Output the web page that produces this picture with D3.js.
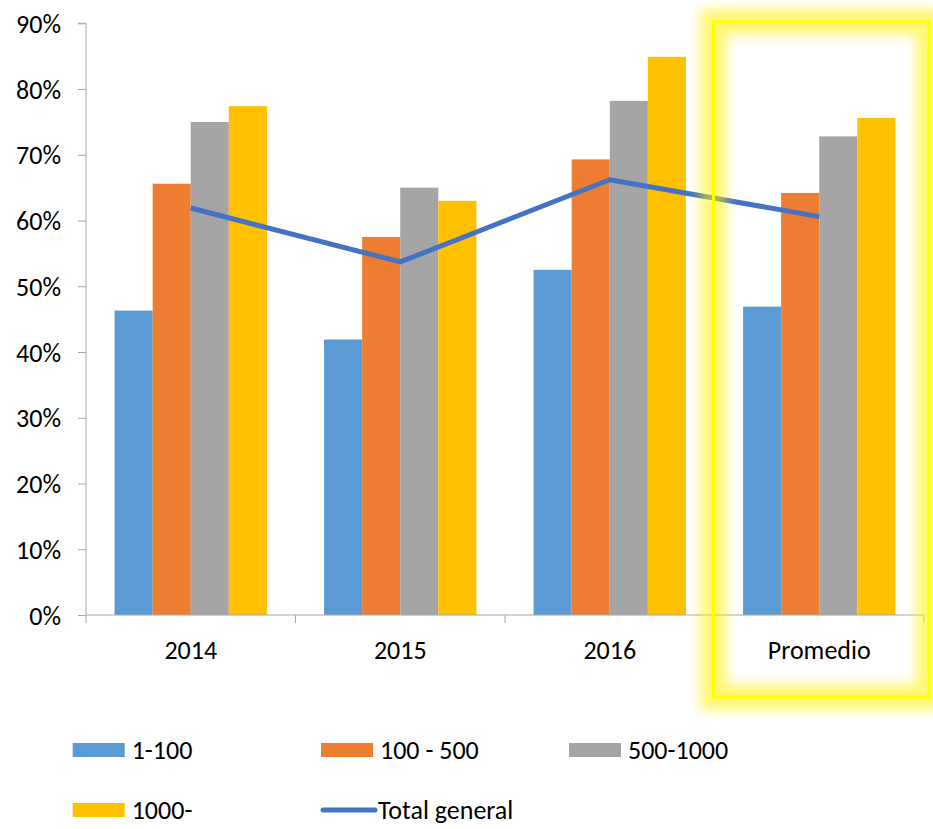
<!DOCTYPE html>
<html>
<head>
<meta charset="utf-8">
<script src="https://cdn.jsdelivr.net/npm/d3@7/dist/d3.min.js"></script>
<style>
  html, body { margin: 0; padding: 0; background: #fff; }
  svg text { font-family: Carlito, Lato, "Liberation Sans", sans-serif; fill: #000; }
</style>
</head>
<body>
<svg id="chart" width="933" height="829"></svg>
<script>
const categories = ["2014", "2015", "2016", "Promedio"];
const seriesNames = ["1-100", "100 - 500", "500-1000", "1000-"];
const s1_100 = [0.463, 0.419, 0.525, 0.469];
const s100_500 = [0.656, 0.575, 0.693, 0.642];
const s500_1000 = [0.750, 0.650, 0.782, 0.728];
const s1000 = [0.774, 0.630, 0.849, 0.756];
const totalGeneral = [0.619, 0.537, 0.662, 0.606];
const lineName = "Total general";
const yTicks = [0, 0.1, 0.2, 0.3, 0.4, 0.5, 0.6, 0.7, 0.8, 0.9];
const colors = ["#5B9BD5", "#ED7D31", "#A5A5A5", "#FFC000"];
const lineColor = "#4472C4";

const seriesValues = [s1_100, s100_500, s500_1000, s1000];

const svg = d3.select("#chart");
const mLeft = 86, mRight = 924, mTop = 23.3, mBottom = 615;
const fs = 26;

const x = d3.scaleBand().domain(categories).range([mLeft, mRight]).paddingInner(0).paddingOuter(0);
const y = d3.scaleLinear().domain([0, 0.9]).range([mBottom, mTop]);
const bw = x.bandwidth() / 5.5;
const xs = d3.scaleBand().domain(d3.range(4)).range([bw * 0.75, bw * 4.75]);

// bars
seriesValues.forEach((vals, si) => {
  svg.append("g").selectAll("rect").data(vals).join("rect")
    .attr("x", (d, i) => x(categories[i]) + xs(si))
    .attr("y", d => y(d))
    .attr("width", xs.bandwidth())
    .attr("height", d => y(0) - y(d))
    .attr("fill", colors[si]);
});

// axes
const axisColor = "#A6A6A6";
const yAxis = svg.append("g").attr("transform", `translate(${mLeft},0)`)
  .call(d3.axisLeft(y).tickValues(yTicks).tickFormat(d3.format(".0%")).tickSize(8).tickPadding(17));
yAxis.select(".domain").attr("stroke", axisColor).attr("d", `M-8,${mTop}H0V${mBottom}`);
yAxis.selectAll(".tick line").attr("stroke", axisColor);
yAxis.selectAll(".tick text").style("font-size", fs + "px").attr("dy", "0.35em");

const xAxis = svg.append("g").attr("transform", `translate(0,${mBottom})`)
  .call(d3.axisBottom(x).tickSize(0).tickPadding(0));
xAxis.select(".domain").attr("stroke", axisColor).attr("d", `M${mLeft},0H${mRight}`);
xAxis.selectAll(".tick text").style("font-size", fs + "px").attr("y", 44).attr("dy", 0);
// boundary ticks
const bounds = categories.map(c => x(c)).concat([mRight]);
svg.append("g").selectAll("line").data(bounds).join("line")
  .attr("x1", d => d).attr("x2", d => d)
  .attr("y1", mBottom).attr("y2", mBottom + 8)
  .attr("stroke", axisColor);

// line
const line = d3.line()
  .x((d, i) => x(categories[i]) + x.bandwidth() / 2)
  .y(d => y(d));
svg.append("path").datum(totalGeneral)
  .attr("d", line)
  .attr("fill", "none")
  .attr("stroke", lineColor)
  .attr("stroke-width", 5)
  .attr("stroke-linejoin", "round");

// highlight box with glow
const defs = svg.append("defs");
defs.append("filter").attr("id", "glow").attr("x", "-20%").attr("y", "-20%").attr("width", "140%").attr("height", "140%")
  .append("feGaussianBlur").attr("stdDeviation", 6);
const bx = 713.5, by = 22, bwid = 929 - 713.5, bh = 697 - 22;
svg.append("rect").attr("x", bx).attr("y", by).attr("width", bwid).attr("height", bh)
  .attr("fill", "none").attr("stroke", "#FFF200").attr("stroke-width", 26)
  .attr("opacity", 0.55).attr("filter", "url(#glow)");
svg.append("rect").attr("x", bx).attr("y", by).attr("width", bwid).attr("height", bh)
  .attr("fill", "none").attr("stroke", "#FFFF00").attr("stroke-width", 3);

// legend
const legendItems = [
  { name: seriesNames[0], color: colors[0], type: "rect", sx: 72.7, ty: 759 },
  { name: seriesNames[1], color: colors[1], type: "rect", sx: 321, ty: 759 },
  { name: seriesNames[2], color: colors[2], type: "rect", sx: 569, ty: 759 },
  { name: seriesNames[3], color: colors[3], type: "rect", sx: 72.7, ty: 819 },
  { name: lineName, color: lineColor, type: "line", sx: 321, ty: 819 }
];
const lg = svg.append("g");
legendItems.forEach(it => {
  if (it.type === "rect") {
    lg.append("rect").attr("x", it.sx).attr("y", it.ty - 16).attr("width", 52).attr("height", 14).attr("fill", it.color);
  } else {
    lg.append("line").attr("x1", it.sx + 2).attr("x2", it.sx + 54).attr("y1", it.ty - 9).attr("y2", it.ty - 9)
      .attr("stroke", it.color).attr("stroke-width", 5).attr("stroke-linecap", "round");
  }
  lg.append("text").attr("x", it.sx + (it.type === "rect" ? 59 : 57)).attr("y", it.ty)
    .style("font-size", fs + "px").text(it.name);
});
</script>
</body>
</html>
